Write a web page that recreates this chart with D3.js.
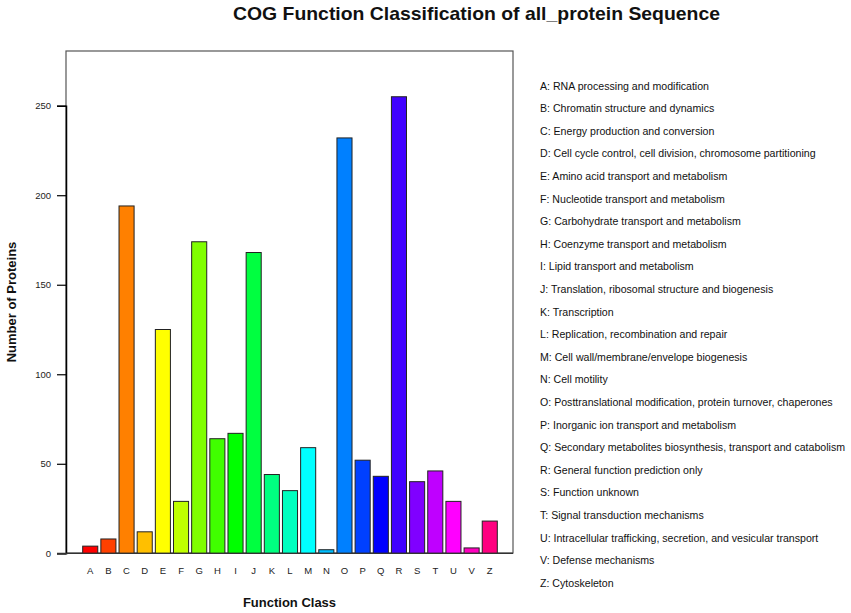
<!DOCTYPE html>
<html>
<head>
<meta charset="utf-8">
<script src="https://cdn.jsdelivr.net/npm/d3@7"></script>
<style>
  html, body { margin: 0; padding: 0; background: #fff; }
  svg { display: block; font-family: "Liberation Sans", Arial, Helvetica, sans-serif; }
</style>
</head>
<body>
<svg id="chart" width="851" height="613"></svg>
<script>
const categories = ["A","B","C","D","E","F","G","H","I","J","K","L","M","N","O","P","Q","R","S","T","U","V","Z"];
const values = [4, 8, 194, 12, 125, 29, 174, 64, 67, 168, 44, 35, 59, 2, 232, 52, 43, 255, 40, 46, 29, 3, 18];
const descriptions = [
  "RNA processing and modification",
  "Chromatin structure and dynamics",
  "Energy production and conversion",
  "Cell cycle control, cell division, chromosome partitioning",
  "Amino acid transport and metabolism",
  "Nucleotide transport and metabolism",
  "Carbohydrate transport and metabolism",
  "Coenzyme transport and metabolism",
  "Lipid transport and metabolism",
  "Translation, ribosomal structure and biogenesis",
  "Transcription",
  "Replication, recombination and repair",
  "Cell wall/membrane/envelope biogenesis",
  "Cell motility",
  "Posttranslational modification, protein turnover, chaperones",
  "Inorganic ion transport and metabolism",
  "Secondary metabolites biosynthesis, transport and catabolism",
  "General function prediction only",
  "Function unknown",
  "Signal transduction mechanisms",
  "Intracellular trafficking, secretion, and vesicular transport",
  "Defense mechanisms",
  "Cytoskeleton"
];
const yTicks = [0, 50, 100, 150, 200, 250];
const titleText = "COG Function Classification of all_protein Sequence";
const xLabel = "Function Class";
const yLabel = "Number of Proteins";

const svg = d3.select("#chart");

// plot box
const box = { left: 66, right: 513, top: 51, bottom: 553 };

const y = d3.scaleLinear().domain([0, 250]).range([553.3, 105.7]);
const x = d3.scaleBand().domain(categories).range([82.7, 497.3]).paddingInner(0.17).paddingOuter(0);

// rainbow(24) colours, first 23
const color = d3.scaleOrdinal().domain(categories)
  .range(categories.map((c, i) => d3.hsl(i * 360 / 24, 1, 0.5).formatHex()));

// box
svg.append("rect")
  .attr("x", box.left).attr("y", box.top)
  .attr("width", box.right - box.left).attr("height", box.bottom - box.top)
  .attr("fill", "none").attr("stroke", "#555").attr("stroke-width", 1.2);

// bars
svg.append("g").selectAll("rect")
  .data(categories)
  .join("rect")
  .attr("x", d => x(d))
  .attr("width", x.bandwidth())
  .attr("y", (d, i) => y(values[i]))
  .attr("height", (d, i) => y(0) - y(values[i]))
  .attr("fill", d => color(d))
  .attr("stroke", "#222")
  .attr("stroke-width", 1);

// y axis
const yAxis = d3.axisLeft(y).tickValues(yTicks).tickSize(9).tickPadding(6);
const gy = svg.append("g").attr("transform", `translate(${box.left},0)`).call(yAxis);
gy.select(".domain").attr("stroke", "#000").attr("stroke-width", 1.5);
gy.selectAll(".tick line").attr("stroke", "#000").attr("stroke-width", 1.2);
gy.selectAll(".tick text").attr("font-size", 9.5).attr("fill", "#222")
  .attr("font-family", "Liberation Sans, Arial, sans-serif");

// x axis (labels only, no ticks)
const xAxis = d3.axisBottom(x).tickSize(0).tickPadding(14);
const gx = svg.append("g").attr("transform", `translate(0,${box.bottom})`).call(xAxis);
gx.select(".domain").remove();
gx.selectAll(".tick text").attr("font-size", 9.5).attr("fill", "#222")
  .attr("font-family", "Liberation Sans, Arial, sans-serif");

// baseline line at 0 extending from tick
svg.append("line")
  .attr("x1", 57).attr("x2", box.right)
  .attr("y1", y(0)).attr("y2", y(0))
  .attr("stroke", "#333").attr("stroke-width", 1.2);

// title
svg.append("text")
  .attr("x", 476.5).attr("y", 20)
  .attr("text-anchor", "middle")
  .attr("font-size", 18.5).attr("font-weight", "bold").attr("fill", "#111")
  .attr("textLength", 487).attr("lengthAdjust", "spacingAndGlyphs")
  .text(titleText);

// axis labels
svg.append("text")
  .attr("x", (box.left + box.right) / 2).attr("y", 607)
  .attr("text-anchor", "middle")
  .attr("font-size", 13).attr("font-weight", "bold").attr("fill", "#111")
  .text(xLabel);

svg.append("text")
  .attr("transform", `translate(16,${(box.top + box.bottom) / 2}) rotate(-90)`)
  .attr("text-anchor", "middle")
  .attr("font-size", 13).attr("font-weight", "bold").attr("fill", "#111")
  .text(yLabel);

// legend
svg.append("g").selectAll("text")
  .data(categories)
  .join("text")
  .attr("x", 540)
  .attr("y", (d, i) => 89.5 + i * 22.6)
  .attr("font-size", 10.6).attr("fill", "#111")
  .text((d, i) => `${d}: ${descriptions[i]}`);
</script>
</body>
</html>
